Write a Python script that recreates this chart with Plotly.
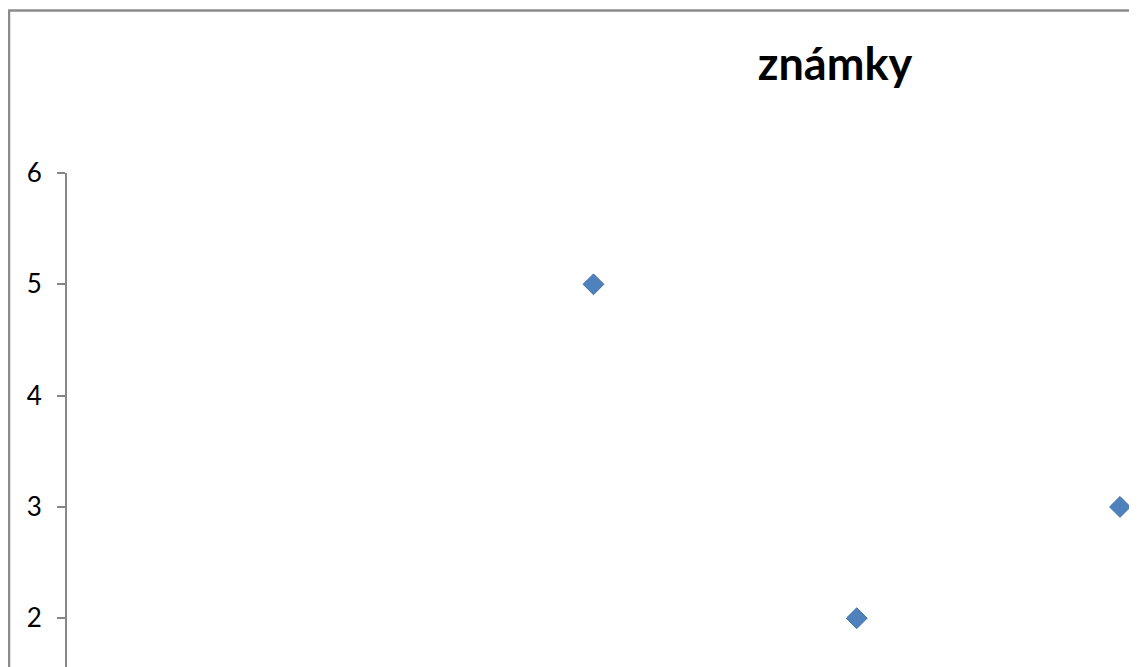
import plotly.graph_objects as go

# Data (visible points of the series "známky")
x_vals = [2, 3, 4]
y_vals = [5, 2, 3]
y_ticks = [2, 3, 4, 5, 6]
title_text = "známky"

OFF = 8  # page body margin
W, H = 1137 - OFF, 667 - OFF
L, T = 67 - OFF, 173 - OFF
plot_w, plot_h = W - L, H - T

fig = go.Figure()
fig.add_trace(go.Scatter(
    x=x_vals, y=y_vals, mode="markers",
    marker=dict(symbol="diamond", size=16, color="#4F81BD",
                line=dict(color="#3C6DA8", width=1)),
    cliponaxis=False, showlegend=False,
))

fig.update_layout(
    width=W, height=H,
    margin=dict(l=L, r=0, t=T, b=0, pad=0),
    paper_bgcolor="white", plot_bgcolor="white",
    font=dict(family="Lato, Open Sans, sans-serif", color="#000000"),
    title=dict(text="<b>" + title_text + "</b>", x=(835 - OFF) / W, xref="container",
               xanchor="center", y=1 - (64 - OFF) / H, yref="container", yanchor="middle",
               font=dict(size=45, family="Lato, sans-serif", color="#000000")),
    xaxis=dict(range=[0, plot_w / 263.25], visible=False, showgrid=False, zeroline=False),
    yaxis=dict(range=[6 - plot_h / 111.3, 6], tickvals=y_ticks, ticks="outside",
               ticklen=8, tickwidth=2, tickcolor="#868686", showline=True,
               linecolor="#868686", linewidth=2, showgrid=False, zeroline=False,
               tickfont=dict(size=26, family="Lato, sans-serif", color="#000000"),
               ticklabelstandoff=10),
    shapes=[dict(type="rect", xref="paper", yref="paper",
                 x0=(1 - L) / plot_w, x1=1.2,
                 y0=-0.2, y1=1 + (T - 2.5) / plot_h,
                 line=dict(color="#8C8C8C", width=2.5), fillcolor="rgba(0,0,0,0)",
                 layer="below")],
)

fig.write_html("out.html")
